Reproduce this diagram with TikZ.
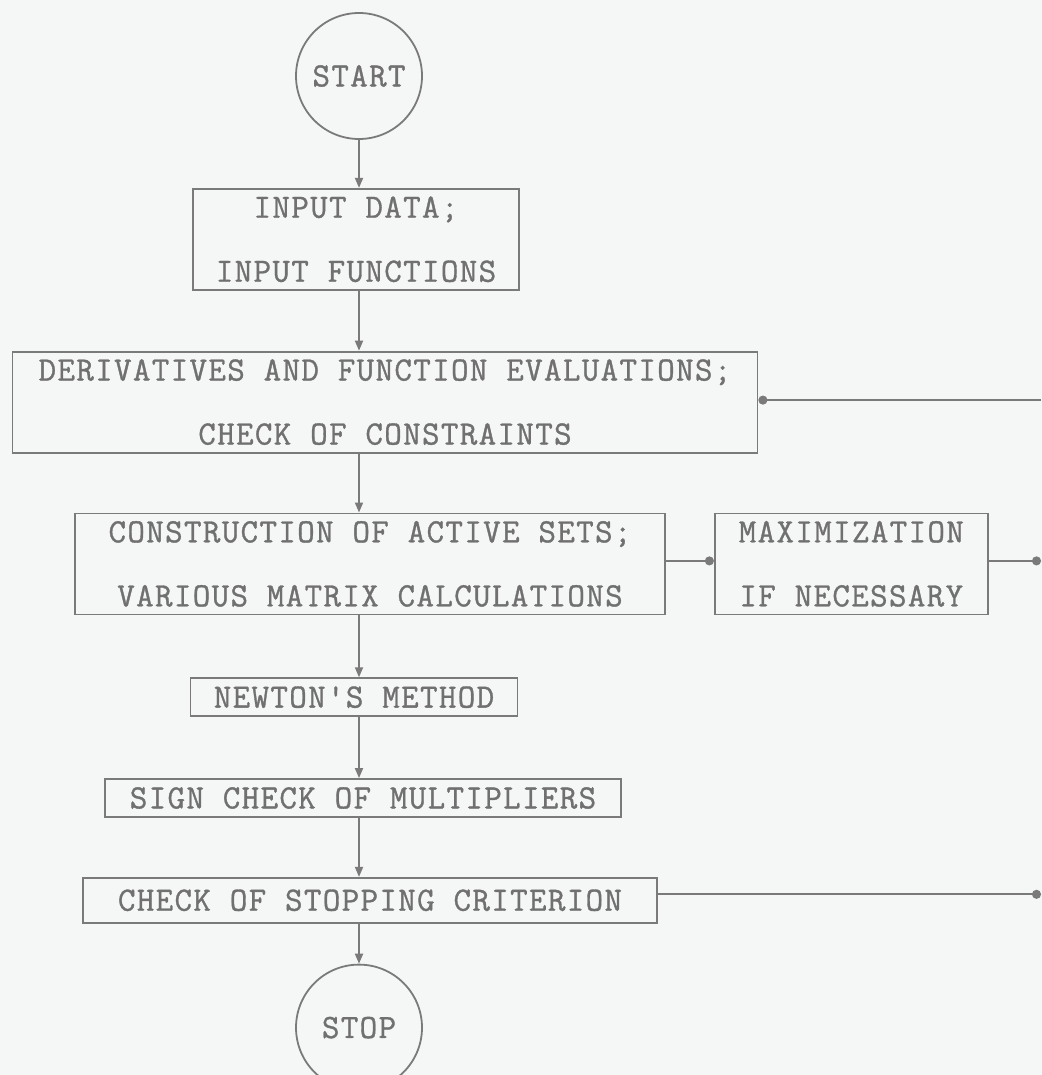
\documentclass[tikz,border=0pt]{standalone}
\usepackage{fontspec}
\newfontfamily\typer{Latin Modern Mono}[LetterSpace=4,FakeBold=1]
\usepackage{xcolor}
\usepackage{tikz}
\usetikzlibrary{arrows.meta,positioning}
\definecolor{linegray}{RGB}{122,122,122}
\definecolor{textgray}{RGB}{112,112,112}
\definecolor{paper}{RGB}{245,246,246}

\begin{document}
\begin{tikzpicture}[font=\typer\fontsize{17}{32}\selectfont,text=textgray,
   blk/.style={draw=linegray,line width=0.9pt,inner sep=0pt,align=center,
               minimum height=50.5pt},
   blk1/.style={blk,minimum height=19pt},
   term/.style={draw=linegray,circle,line width=0.9pt,minimum size=63pt,inner sep=0pt},
   arr/.style={draw=linegray,line width=0.9pt,-{Triangle[length=5pt,width=4pt]}},
   ret/.style={draw=linegray,line width=0.9pt,-{Circle[length=4.5pt]}}]
  \fill[paper] (0,0) rectangle (521pt,-537.5pt);
  \useasboundingbox (0,0) rectangle (521pt,-537.5pt);
  \coordinate (edge) at (520.5pt,0);
  \node[term] (start) at (179.5pt,-38pt) {START};
  \node[blk,minimum width=163pt,below=24pt of start,xshift=-1.5pt] (inp)
       {INPUT DATA;\\INPUT FUNCTIONS};
  \node[blk,minimum width=372.5pt,below=30pt of inp,xshift=14.5pt] (der)
       {DERIVATIVES AND FUNCTION EVALUATIONS;\\CHECK OF CONSTRAINTS};
  \node[blk,minimum width=295pt,below=29.5pt of der,xshift=-7.5pt] (act)
       {CONSTRUCTION OF ACTIVE SETS;\\VARIOUS MATRIX CALCULATIONS};
  \node[blk,minimum width=136.5pt,right=24pt of act] (maxim)
       {MAXIMIZATION\\IF NECESSARY};
  \node[blk1,minimum width=163.5pt,below=31pt of act,xshift=-8pt] (newton)
       {NEWTON'S METHOD};
  \node[blk1,minimum width=258pt,below=30.5pt of newton,xshift=4.5pt] (sign)
       {SIGN CHECK OF MULTIPLIERS};
  \node[blk1,minimum width=287pt,minimum height=22.5pt,below=29.5pt of sign,xshift=3.5pt] (crit)
       {CHECK OF STOPPING CRITERION};
  \node[term,anchor=north] (stop) at ([yshift=-20pt]start |- crit.south) {STOP};
  % main flow
  \draw[arr] (start.south) -- (start |- inp.north);
  \draw[arr] (start |- inp.south) -- (start |- der.north);
  \draw[arr] (start |- der.south) -- (start |- act.north);
  \draw[arr] (start |- act.south) -- (start |- newton.north);
  \draw[arr] (start |- newton.south) -- (start |- sign.north);
  \draw[arr] (start |- sign.south) -- (start |- crit.north);
  \draw[arr] (start |- crit.south) -- (stop.north);
  % loops back
  \draw[ret] ([yshift=1.5pt]act.east) -- ([yshift=1.5pt]maxim.west);
  \draw[ret] ([yshift=1.5pt]maxim.east) -- ([yshift=1.5pt]maxim.east -| edge);
  \draw[ret] ([yshift=3pt]crit.east) -- ([yshift=3pt]crit.east -| edge);
  \draw[ret] ([yshift=1pt]der.east -| edge) -- ([yshift=1pt]der.east);
\end{tikzpicture}
\end{document}
